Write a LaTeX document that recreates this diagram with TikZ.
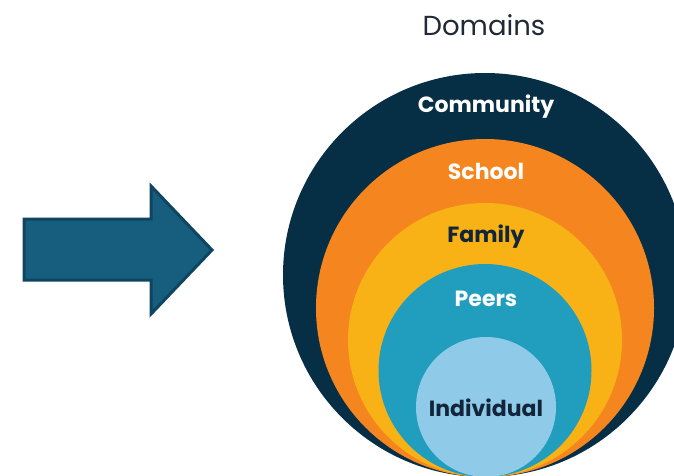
\documentclass[tikz,border=0pt]{standalone}
\usepackage{fontspec}
\setmainfont{Poppins}
\usepackage{xcolor}
\usepackage{tikz}

\definecolor{navy}{HTML}{062E45}
\definecolor{schoolorange}{HTML}{F5861F}
\definecolor{familyyellow}{HTML}{F9B216}
\definecolor{peersteal}{HTML}{219DBE}
\definecolor{indivblue}{HTML}{8FCBE8}
\definecolor{arrowfill}{HTML}{175E7E}
\definecolor{arrowline}{HTML}{0E4560}
\definecolor{darktext}{HTML}{12253A}
\definecolor{titlegray}{HTML}{1F2A36}

\begin{document}
\begin{tikzpicture}[x=1pt, y=-1pt,
     ring/.style={circle, inner sep=0pt, outer sep=0pt},
     lbl/.style={font=\bfseries\fontsize{22}{26}\selectfont, inner sep=0pt}]
     \useasboundingbox (0,0) rectangle (674,475);
     \clip (0,0) rectangle (674,475);

     \node (title) at (484,25) {\fontsize{27.5}{32}\selectfont\color{titlegray}Domains};

     \draw[fill=arrowfill, draw=arrowline, line width=3pt, line join=miter]
          (24,219) -- (151,219) -- (151,186) -- (212,250) -- (151,314) -- (151,280) -- (24,280) -- cycle;

     \node[ring, fill=navy, minimum size=404pt] (community) at (485,275) {};
     \node[ring, fill=schoolorange, minimum size=338pt] (school) at (485,308) {};
     \node[ring, fill=familyyellow, minimum size=274pt] (family) at (485,340) {};
     \node[ring, fill=peersteal, minimum size=213pt] (peers) at (485,370.5) {};
     \node[ring, fill=indivblue, minimum size=140pt] (individual) at (486,407) {};

     \node[lbl, text=white] (communitytext) at (486,107) {Community};
     \node[lbl, text=white] (schooltext) at (486,171) {School};
     \node[lbl, text=darktext] (familytext) at (486,237) {Family};
     \node[lbl, text=white] (peerstext) at (486,299) {Peers};
     \node[lbl, text=darktext] (individualtext) at (486,408) {Individual};
\end{tikzpicture}
\end{document}
